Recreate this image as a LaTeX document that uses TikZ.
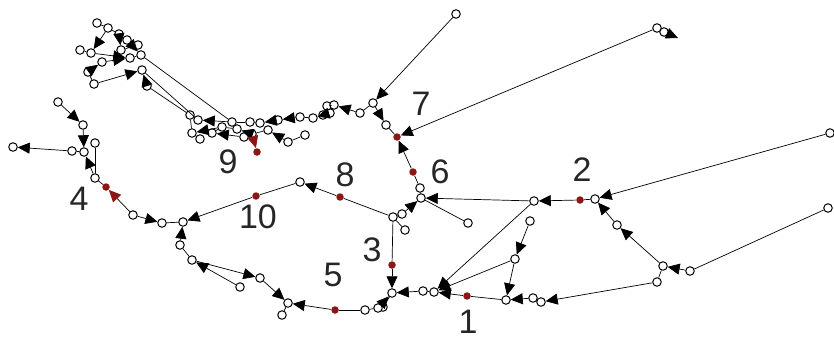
\documentclass[tikz,border=0pt]{standalone}
\usepackage{fontspec}
\setsansfont{Liberation Sans}
\usetikzlibrary{arrows.meta}
\definecolor{dred}{RGB}{140,22,22}
\tikzset{
  v/.style={circle,draw,fill=white,line width=1pt,inner sep=0pt,minimum size=8.5pt},
  rd/.style={circle,fill=dred,inner sep=0pt,minimum size=7.5pt},
  lbl/.style={font=\sffamily\fontsize{34}{34}\selectfont,text=black!85},
  e/.style={-{Triangle[length=12pt,width=11pt]}},
  er/.style={-{Triangle[length=12pt,width=11pt,color=dred]}}
}
\begin{document}
\begin{tikzpicture}[x=1pt,y=-1pt,line width=0.7pt]
      \useasboundingbox (0,0) rectangle (834,340);
      \path
        (97,23) node[v] (a1){}
        (108,28) node[v] (a2){}
        (119,34) node[v] (a3){}
        (80,50) node[v] (a4){}
        (91,53) node[v] (a5){}
        (88,72) node[v] (a6){}
        (94,84) node[v] (a7){}
        (121,50) node[v] (a8){}
        (130,58) node[v] (a9){}
        (138,45) node[v] (a10){}
        (141,55) node[v] (a11){}
        (142,70) node[v] (a12){}
        (147,86) node[v] (a13){}
        (127,40) node[v] (a14){}
        (102,62) node[v] (a15){}
        (190,115) node[v] (b1){}
        (198,120) node[v] (b2){}
        (192,133) node[v] (b3){}
        (200,139) node[v] (b4){}
        (212,133) node[v] (b5){}
        (232,122) node[v] (b6){}
        (237,129) node[v] (b7){}
        (250,122) node[v] (b8){}
        (252,134) node[v] (b9){}
        (260,123) node[v] (b10){}
        (268,130) node[v] (b11){}
        (278,120) node[v] (b12){}
        (288,142) node[v] (b13){}
        (300,117) node[v] (b14){}
        (305,135) node[v] (b15){}
        (313,118) node[v] (b16){}
        (323,115) node[v] (b17){}
        (330,113) node[v] (b18){}
        (327,106) node[v] (b19){}
        (334,105) node[v] (b20){}
        (222,127) node[v] (b21){}
        (244,137) node[v] (b22){}
        (456,14) node[v] (t1){}
        (657,28) node[v] (t2){}
        (664,32) node[v] (t2b){}
        (373,103) node[v] (c1){}
        (360,113) node[v] (c2){}
        (386,125) node[v] (c3){}
        (420,188) node[v] (n6){}
        (421,198) node[v] (n6b){}
        (468,223) node[v] (n6c){}
        (534,201) node[v] (n2a){}
        (595,199) node[v] (n2b){}
        (617,225) node[v] (n2c){}
        (663,266) node[v] (n2d){}
        (690,271) node[v] (n2f){}
        (657,282) node[v] (n2g){}
        (830,133) node[v] (far1){}
        (828,208) node[v] (far2){}
        (533,298) node[v] (n1d){}
        (541,302) node[v] (n1e){}
        (506,300) node[v] (n1c){}
        (434,292) node[v] (n1b){}
        (423,291) node[v] (n1a){}
        (530,221) node[v] (n1f){}
        (515,259) node[v] (n1g){}
        (393,217) node[v] (n8a){}
        (402,214) node[v] (n8c){}
        (405,230) node[v] (n8b){}
        (392,293) node[v] (n3){}
        (383,307) node[v] (n3b){}
        (378,308) node[v] (n5c){}
        (365,310) node[v] (n5b){}
        (288,303) node[v] (n5a){}
        (282,315) node[v] (n5aa){}
        (260,278) node[v] (n5d){}
        (240,287) node[v] (n5e){}
        (192,260) node[v] (n5f){}
        (180,245) node[v] (n5g){}
        (300,182) node[v] (n9){}
        (183,222) node[v] (n10b){}
        (162,223) node[v] (n10a){}
        (133,215) node[v] (n4d){}
        (95,178) node[v] (n4e){}
        (84,152) node[v] (n4f){}
        (72,151) node[v] (n4g){}
        (95,143) node[v] (n4h){}
        (83,125) node[v] (n4i){}
        (58,102) node[v] (n4j){}
        (13,147) node[v] (n4k){};
      \coordinate (t2c) at (678,38);
      \path
        (467,296) node[rd] (r1){}
        (580,200) node[rd] (r2){}
        (392,265) node[rd] (r3){}
        (106,187) node[rd] (r4){}
        (335,310) node[rd] (r5){}
        (413,172) node[rd] (r6){}
        (397,137) node[rd] (r7){}
        (340,197) node[rd] (r8){}
        (257,152) node[rd] (r9){}
        (256,196) node[rd] (r10){};
      \path
        (468,322) node[lbl] (l1){1}
        (582,170) node[lbl] (l2){2}
        (372,250) node[lbl] (l3){3}
        (79,199) node[lbl] (l4){4}
        (333,275) node[lbl] (l5){5}
        (440,172) node[lbl] (l6){6}
        (421,104) node[lbl] (l7){7}
        (345,175) node[lbl] (l8){8}
        (228,162) node[lbl] (l9){9}
        (258,217) node[lbl] (l10){10};
      \begin{scope}[-]
        \draw (a1) to (a2);
        \draw (a2) to (a3);
        \draw[e] (a3) to (a8);
        \draw[e] (a2) to (a5);
        \draw (a4) to (a5);
        \draw[e] (a5) to (a9);
        \draw[e] (a6) to (a15);
        \draw (a6) to (a7);
        \draw[e] (a7) to (a12);
        \draw (a8) to (a10);
        \draw (a14) to (a10);
        \draw[e] (a14) to (a11);
        \draw (a9) to (a11);
        \draw[e] (a15) to (a9);
        \draw[e] (a13) to (a12);
        \draw (a11) to (b6);
        \draw (a12) to (b2);
        \draw (a13) to (b1);
        \draw[e] (c2) to (b20);
        \draw (b20) to (b19);
        \draw (b20) to (b18);
        \draw (b18) to (b17);
        \draw[e] (b17) to (b16);
        \draw (b16) to (b14);
        \draw[e] (b14) to (b12);
        \draw[e] (b12) to (b10);
        \draw (b10) to (b8);
        \draw (b8) to (b6);
        \draw[e] (b6) to (b2);
        \draw (b2) to (b1);
        \draw (b1) to (b3);
        \draw (b3) to (b4);
        \draw[e] (b21) to (b3);
        \draw (b21) to (b5);
        \draw (b15) to (b13);
        \draw[e] (b13) to (b11);
        \draw (b11) to (b9);
        \draw[e] (b9) to (b7);
        \draw (b7) to (b21);
        \draw[e] (b22) to (b5);
        \draw[er] (b9) to (r9);
        \draw[e] (t1) to (c1);
        \draw (c1) to (c2);
        \draw[e] (c1) to (c3);
        \draw[e] (t2) to (r7);
        \draw (t2) to (t2b);
        \draw[e] (t2b) to (t2c);
        \draw (r7) to (c3);
        \draw[e] (r6) to (r7);
        \draw (n6) to (r6);
        \draw (n6) to (n6b);
        \draw (n6b) to (n6c);
        \draw[e] (far1) to (n2b);
        \draw (n2b) to (r2);
        \draw[e] (r2) to (n2a);
        \draw[e] (n2a) to (n6b);
        \draw[e] (n2c) to (n2b);
        \draw[e] (n2d) to (n2c);
        \draw (far2) to (n2f);
        \draw[e] (n2f) to (n2d);
        \draw (n2d) to (n2g);
        \draw[e] (n2g) to (n1e);
        \draw (n1e) to (n1d);
        \draw[e] (n1d) to (n1c);
        \draw[e] (n1f) to (n1g);
        \draw[e] (n1g) to (n1c);
        \draw[e] (n1g) to (n1b);
        \draw[e] (n2a) to (n1b);
        \draw (n1c) to (r1);
        \draw[e] (r1) to (n1b);
        \draw (n1b) to (n1a);
        \draw[e] (n1a) to (n3);
        \draw[e] (n8c) to (n6b);
        \draw (n8a) to (n8c);
        \draw (n8a) to (n8b);
        \draw (n8a) to (r3);
        \draw[e] (r3) to (n3);
        \draw (n3) to (n3b);
        \draw[e] (n5c) to (n3);
        \draw (n5c) to (n5b);
        \draw (n5b) to (r5);
        \draw[e] (r5) to (n5a);
        \draw (n5a) to (n5aa);
        \draw[e] (n5d) to (n5a);
        \draw[e] (n5f) to (n5d);
        \draw[e] (n5e) to (n5f);
        \draw (n5f) to (n5g);
        \draw[e] (n5g) to (n10b);
        \draw (n8a) to (r8);
        \draw[e] (r8) to (n9);
        \draw (n9) to (r10);
        \draw[e] (r10) to (n10b);
        \draw (n10a) to (n10b);
        \draw[e] (n4d) to (n10a);
        \draw[er] (n4d) to (r4);
        \draw (r4) to (n4e);
        \draw[e] (n4e) to (n4f);
        \draw (n4e) to (n4h);
        \draw (n4f) to (n4g);
        \draw[e] (n4g) to (n4k);
        \draw[e] (n4j) to (n4i);
        \draw[e] (n4i) to (n4f);
      \end{scope}
    \end{tikzpicture}
\end{document}
